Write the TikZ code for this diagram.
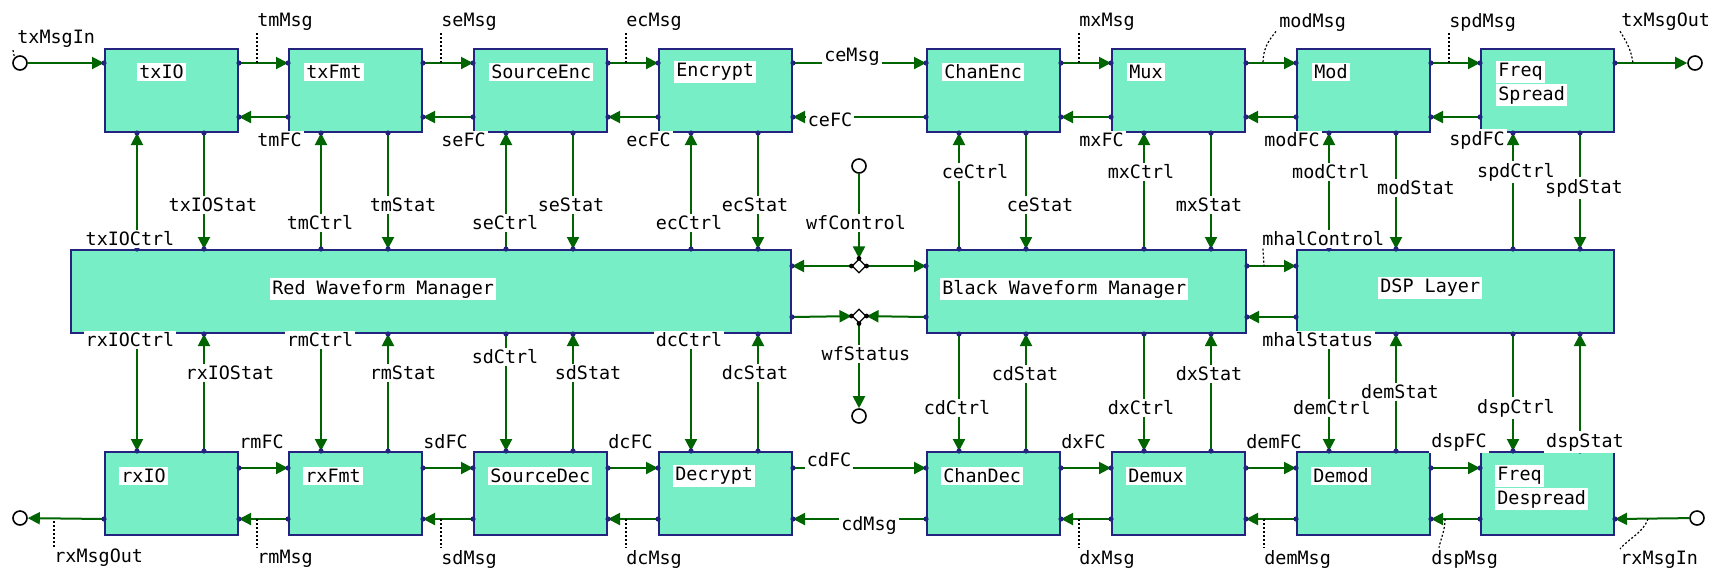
\documentclass[tikz,border=0pt]{standalone}
\usepackage{fontspec}
\setmonofont{DejaVu Sans Mono}
\usepackage{tikz}
\usetikzlibrary{positioning,arrows.meta,shapes.geometric,calc}
\definecolor{boxfill}{RGB}{120,238,198}
\definecolor{boxedge}{RGB}{36,36,128}
\definecolor{sigline}{RGB}{0,100,0}
\newcommand\wffont{\ttfamily\fontsize{9.2}{11.5}\selectfont}
\tikzset{
  box/.style  = {draw=boxedge, fill=boxfill, line width=1pt, anchor=north west,
                 inner sep=0pt, minimum width=66.5pt, minimum height=41.5pt},
  tag/.style  = {fill=white, inner sep=1pt, font=\wffont},
  sig/.style  = {draw=sigline, line width=1pt, -{Triangle[length=6pt,width=6pt]}},
  lead/.style = {draw=black, line width=0.6pt, dash pattern=on 1pt off 1pt},
  term/.style = {draw=black, circle, line width=0.8pt, minimum size=7pt,
                 inner sep=0pt, fill=white},
  jn/.style   = {draw=black, diamond, line width=0.6pt, minimum size=7pt,
                 inner sep=0pt, fill=white},
}

\begin{document}
\begin{tikzpicture}[x=0.5pt, y=-0.5pt]
  \path[fill=white, use as bounding box] (0,0) rectangle (1709,570);

  % managers
  \node[box, minimum width=360pt, minimum height=41.5pt] (redwm) at (70,249) {};
  \node[box, minimum width=159.5pt, minimum height=41.5pt] (blkwm) at (926,249) {};
  \node[box, minimum width=158.5pt, minimum height=41.5pt] (dspLay) at (1296,249) {};

  % transmit chain
  \foreach \n/\x in {txIO/104,txFmt/288,srcEnc/473,encr/658,chEnc/926,mux/1111,mod/1296,fspr/1480}{
    \node[box] (\n) at (\x,48) {};
    \coordinate (\n-ti) at ($(\n.north west)+(0,15)$);
    \coordinate (\n-to) at ($(\n.north east)+(0,15)$);
    \coordinate (\n-bi) at ($(\n.south west)+(0,-16)$);
    \coordinate (\n-bo) at ($(\n.south east)+(0,-16)$);
    \coordinate (\n-c) at ($(\n.south west)+(33,0)$);
    \coordinate (\n-s) at ($(\n.south west)+(100,0)$);
  }
  % receive chain
  \foreach \n/\x in {rxIO/104,rxFmt/288,srcDec/473,decr/658,chDec/926,demux/1111,demod/1296,fdsp/1480}{
    \node[box] (\n) at (\x,451) {};
    \coordinate (\n-ti) at ($(\n.north west)+(0,17)$);
    \coordinate (\n-to) at ($(\n.north east)+(0,17)$);
    \coordinate (\n-bi) at ($(\n.south west)+(0,-17)$);
    \coordinate (\n-bo) at ($(\n.south east)+(0,-17)$);
    \coordinate (\n-c) at ($(\n.north west)+(33,0)$);
    \coordinate (\n-s) at ($(\n.north west)+(100,0)$);
  }

  % control / status to the managers
  \foreach \n/\m in {txIO/redwm,txFmt/redwm,srcEnc/redwm,encr/redwm,chEnc/blkwm,mux/blkwm,mod/dspLay,fspr/dspLay}{
    \draw[sig] (\n-c |- \m.north) -- (\n-c);
    \draw[sig] (\n-s) -- (\n-s |- \m.north);
    \fill[boxedge] (\n-c |- \m.north) circle (1.3pt) (\n-s |- \m.north) circle (1.3pt)
                   (\n-c) circle (1.3pt) (\n-s) circle (1.3pt);
  }
  \foreach \n/\m in {rxIO/redwm,rxFmt/redwm,srcDec/redwm,decr/redwm,chDec/blkwm,demux/blkwm,demod/dspLay,fdsp/dspLay}{
    \draw[sig] (\n-c |- \m.south) -- (\n-c);
    \draw[sig] (\n-s) -- (\n-s |- \m.south);
    \fill[boxedge] (\n-c |- \m.south) circle (1.3pt) (\n-s |- \m.south) circle (1.3pt)
                   (\n-c) circle (1.3pt) (\n-s) circle (1.3pt);
  }

  % message and flow control links
  \foreach \a/\b in {txIO/txFmt,txFmt/srcEnc,srcEnc/encr,encr/chEnc,chEnc/mux,mux/mod,mod/fspr,
                     rxIO/rxFmt,rxFmt/srcDec,srcDec/decr,decr/chDec,chDec/demux,demux/demod,demod/fdsp}{
    \draw[sig] (\a-to) -- (\b-ti);
    \draw[sig] (\b-bi) -- (\a-bo);
  }

  % terminals
  \node[term] (txin) at (20,63) {};
  \node[term] (txout) at (1695,63) {};
  \node[term] (rxout) at (20,518) {};
  \node[term] (rxin) at (1697,518) {};
  \draw[sig] (txin) -- (txIO-ti);
  \draw[sig] (fspr-to) -- (txout);
  \draw[sig] (rxIO-bi) -- (rxout);
  \draw[sig] (rxin) -- (fdsp-bo);

  % waveform control junctions
  \node[term] (wfc) at (859,166) {};
  \node[term] (wfs) at (859,416) {};
  \node[jn] (jc) at (859,266) {};
  \node[jn] (js) at (859,316) {};
  \draw[sig] (wfc) -- (jc);
  \draw[sig] (jc) -- ($(redwm.north east)+(0,17)$);
  \draw[sig] (jc) -- ($(blkwm.north west)+(0,17)$);
  \draw[sig] ($(redwm.south east)+(0,-17)$) -- (js);
  \draw[sig] ($(blkwm.south west)+(0,-17)$) -- (js);
  \draw[sig] (js) -- (wfs);
  \fill (jc.west) circle (1.2pt) (jc.east) circle (1.2pt) (jc.north) circle (1.2pt)
        (js.west) circle (1.2pt) (js.east) circle (1.2pt) (js.south) circle (1.2pt);
  \draw[sig] ($(blkwm.north east)+(0,17)$) -- ($(dspLay.north west)+(0,17)$);
  \draw[sig] ($(dspLay.south west)+(0,-17)$) -- ($(blkwm.south east)+(0,-17)$);
  \fill[boxedge] ($(redwm.north east)+(0,17)$) circle (1.3pt) ($(redwm.south east)+(0,-17)$) circle (1.3pt)
                 ($(blkwm.north west)+(0,17)$) circle (1.3pt) ($(blkwm.south west)+(0,-17)$) circle (1.3pt)
                 ($(blkwm.north east)+(0,17)$) circle (1.3pt) ($(blkwm.south east)+(0,-17)$) circle (1.3pt)
                 ($(dspLay.north west)+(0,17)$) circle (1.3pt) ($(dspLay.south west)+(0,-17)$) circle (1.3pt);

  % port dots
  \foreach \n in {txFmt,srcEnc,encr,chEnc,mux,mod,rxFmt,srcDec,decr,chDec,demux,demod}
    \foreach \k in {ti,to,bi,bo}
      \fill[boxedge] (\n-\k) circle (1.3pt);
  \foreach \p in {txIO-ti,txIO-to,txIO-bo,fspr-ti,fspr-to,fspr-bi,
                  rxIO-to,rxIO-bi,rxIO-bo,fdsp-ti,fdsp-bi,fdsp-bo}
    \fill[boxedge] (\p) circle (1.3pt);

  % block names
  \node[tag, anchor=west] (txIO-t) at ($(txIO.north west)+(33,24)$) {txIO};
  \foreach \n/\t in {txFmt/txFmt,srcEnc/SourceEnc,encr/Encrypt,chEnc/ChanEnc,mux/Mux,mod/Mod}
    \node[tag, anchor=west] (\n-t) at ($(\n.north west)+(16,24)$) {\t};
  \node[tag, anchor=west] (fspr-t) at ($(fspr.north west)+(16,24)$) {Freq};
  \node[tag, anchor=west] (fspr-u) at ($(fspr.north west)+(16,47)$) {Spread};
  \foreach \n/\t in {rxIO/rxIO,rxFmt/rxFmt,srcDec/SourceDec,decr/Decrypt,chDec/ChanDec,demux/Demux,demod/Demod}
    \node[tag, anchor=west] (\n-t) at ($(\n.north west)+(15,25)$) {\t};
  \node[tag, anchor=west] (fdsp-t) at ($(fdsp.north west)+(15,25)$) {Freq};
  \node[tag, anchor=west] (fdsp-u) at ($(fdsp.north west)+(15,48)$) {Despread};
  \node[tag, anchor=west] (redwm-t) at (270,289) {Red Waveform Manager};
  \node[tag, anchor=west] (blkwm-t) at (940,289) {Black Waveform Manager};
  \node[tag, anchor=west] (dspLay-t) at (1378,288) {DSP Layer};

  % link labels
  \foreach \a/\p in {txIO/tm,txFmt/se,srcEnc/ec,chEnc/mx,mux/mod,mod/spd}
    \node[tag, anchor=west] (\p FC) at ($(\a.south east)+(16,7)$) {\p FC};
  \foreach \a/\p in {txIO/tm,txFmt/se,srcEnc/ec,chEnc/mx,mod/spd}{
    \node[tag, anchor=west] (\p Msg) at ($(\a.north east)+(16,-26)$) {\p Msg};
    \draw[lead] ($(\p Msg.south west)+(2,0)$) -- ($(\a-to)+(18,0)$);
  }
  \foreach \a/\p in {rxIO/rm,rxFmt/sd,srcDec/dc,chDec/dx,demux/dem,demod/dsp}
    \node[tag, anchor=west] (\p FC) at ($(\a.north east)+(-2,-9)$) {\p FC};
  \foreach \a/\p in {rxIO/rm,rxFmt/sd,srcDec/dc,chDec/dx,demux/dem}{
    \node[tag, anchor=west] (\p Msg) at ($(\a.south east)+(16,23)$) {\p Msg};
    \draw[lead] ($(\a-bo)+(18,0)$) -- ($(\p Msg.north west)+(2,0)$);
  }
  \node[tag] (ceMsg) at (852,57) {ceMsg};
  \node[tag] (ceFC) at (830,120) {ceFC};
  \node[tag] (cdFC) at (829,460) {cdFC};
  \node[tag] (cdMsg) at (869,525) {cdMsg};

  \node[tag, anchor=west] (modMsg) at ($(mux.north east)+(31,-26)$) {modMsg};
  \draw[lead] ($(modMsg.south west)+(-1,-2)$) .. controls +(-8,10) and +(0,-14) .. ($(mux-to)+(17,0)$);
  \node[tag, anchor=west] (txMsgOut) at ($(fspr.north east)+(4,-26)$) {txMsgOut};
  \draw[lead] ($(txMsgOut.south west)+(1,-2)$) .. controls +(6,10) and +(-2,-14) .. ($(fspr-to)+(18,0)$);
  \node[tag, anchor=west] (txMsgIn) at (15,39) {txMsgIn};
  \draw[lead] ($(txMsgIn.south west)+(-2,0)$) -- (txin.north west);
  \node[tag, anchor=west] (dspMsg) at ($(demod.south east)+(-2,23)$) {dspMsg};
  \draw[lead] ($(demod-bo)+(14,0)$) .. controls +(0,12) and +(2,-10) .. ($(dspMsg.north west)+(10,0)$);
  \node[tag, anchor=west] (rxMsgIn) at ($(fdsp.south east)+(3,24)$) {rxMsgIn};
  \draw[lead] ($(fdsp-bo)+(33,0)$) .. controls +(-5,14) and +(8,-10) .. ($(rxMsgIn.north west)+(2,0)$);
  \node[tag, anchor=west] (rxMsgOut) at (52,558) {rxMsgOut};
  \draw[lead] ($(rxMsgOut.north west)+(2,0)$) -- ($(rxIO-bi)+(-50,0)$);

  % manager labels
  \foreach \t/\x/\y in {txIOCtrl/130/239, txIOStat/213/205, tmCtrl/320/223, tmStat/403/205,
      seCtrl/505/223, seStat/571/205, ecCtrl/689/223, ecStat/755/205,
      ceCtrl/975/172, ceStat/1040/205, mxCtrl/1141/172, mxStat/1209/205,
      modCtrl/1331/172, modStat/1416/188, spdCtrl/1516/172, spdStat/1584/188,
      rxIOCtrl/130/340, rxIOStat/230/373, rmCtrl/320/340, rmStat/403/373,
      sdCtrl/505/357, sdStat/588/373, dcCtrl/689/340, dcStat/755/373,
      cdCtrl/957/408, cdStat/1025/374, dxCtrl/1141/408, dxStat/1209/374,
      demCtrl/1332/408, demStat/1400/392, dspCtrl/1516/408, dspStat/1585/442,
      wfControl/856/223, wfStatus/866/354}
    \node[tag] (\t) at (\x,\y) {\t};
  \node[tag, anchor=west] (mhalControl) at (1260,239) {mhalControl};
  \draw[lead] ($(mhalControl.south west)+(3,0)$) -- ($(blkwm.north east)+(17,17)$);
  \node[tag, anchor=west] (mhalStatus) at (1260,340) {mhalStatus};
\end{tikzpicture}
\end{document}
